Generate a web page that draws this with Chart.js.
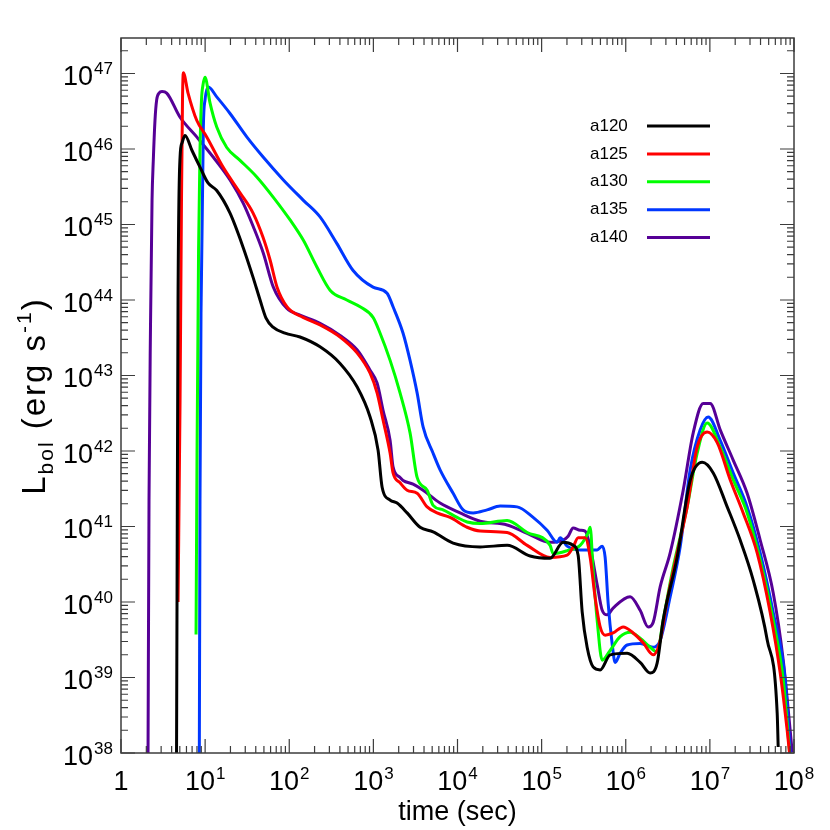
<!DOCTYPE html>
<html lang="en">
<head>
<meta charset="UTF-8">
<title>Bolometric light curves</title>
<script src="https://cdn.jsdelivr.net/npm/chart.js"></script>
<style>
    body { margin: 0; background: #fff; }
    #wrap { width: 830px; height: 830px; position: relative; }
</style>
</head>
<body>
<div id="wrap"><canvas id="lc"></canvas></div>
<script>
// models and their line colours
const modelNames = ["a120", "a125", "a130", "a135", "a140"];
const modelColors = ["#000000", "#ff0000", "#00ff00", "#0037ff", "#560096"];

// [log10 time (sec), log10 L_bol (erg/s)]
const a120 = [[0.660,37.90],[0.666,40.03],[0.678,44.00],[0.702,45.89],[0.725,46.08],[0.761,46.18],[0.844,45.98],[0.939,45.76],[1.034,45.55],[1.138,45.45],[1.296,45.15],[1.451,44.70],[1.570,44.30],[1.653,44.00],[1.724,43.76],[1.807,43.64],[1.950,43.56],[2.128,43.51],[2.366,43.38],[2.604,43.16],[2.806,42.85],[2.961,42.45],[3.056,42.01],[3.104,41.52],[3.199,41.35],[3.282,41.31],[3.401,41.18],[3.555,40.99],[3.710,40.93],[3.948,40.78],[4.269,40.73],[4.590,40.75],[4.863,40.61],[5.101,40.58],[5.256,40.79],[5.375,40.75],[5.434,40.62],[5.482,39.87],[5.541,39.40],[5.612,39.14],[5.696,39.10],[5.815,39.30],[6.017,39.32],[6.171,39.20],[6.290,39.06],[6.373,39.19],[6.445,39.76],[6.611,40.59],[6.766,41.61],[6.909,41.85],[7.040,41.71],[7.206,41.26],[7.360,40.82],[7.515,40.29],[7.681,39.50],[7.800,38.53],[7.812,38.08]];
const a125 = [[0.678,40.00],[0.702,42.67],[0.719,45.32],[0.731,46.65],[0.741,47.01],[0.797,46.74],[0.900,46.38],[1.019,46.16],[1.213,45.76],[1.415,45.42],[1.570,45.15],[1.688,44.83],[1.772,44.53],[1.855,44.17],[1.974,43.91],[2.164,43.77],[2.366,43.67],[2.604,43.51],[2.806,43.30],[2.961,43.03],[3.044,42.77],[3.115,42.41],[3.199,41.97],[3.234,41.71],[3.317,41.58],[3.401,41.48],[3.520,41.44],[3.639,41.26],[3.757,41.18],[3.912,41.12],[4.114,40.99],[4.269,40.94],[4.590,40.92],[4.828,40.75],[5.101,40.59],[5.303,40.62],[5.375,40.73],[5.434,40.85],[5.517,40.85],[5.577,40.59],[5.636,40.06],[5.696,39.67],[5.755,39.56],[5.850,39.59],[5.969,39.67],[6.088,39.59],[6.207,39.46],[6.326,39.30],[6.409,39.49],[6.492,40.02],[6.611,40.65],[6.730,41.26],[6.849,42.05],[6.968,42.25],[7.087,42.11],[7.241,41.62],[7.396,41.18],[7.562,40.65],[7.717,39.86],[7.836,39.06],[7.919,38.30],[7.955,37.91]];
const a130 = [[0.892,39.57],[0.904,42.01],[0.922,44.66],[0.939,45.98],[0.957,46.65],[0.975,46.85],[0.999,46.95],[1.058,46.61],[1.138,46.29],[1.257,46.02],[1.415,45.85],[1.614,45.63],[1.811,45.36],[2.010,45.06],[2.168,44.79],[2.327,44.44],[2.485,44.13],[2.684,44.00],[2.842,43.91],[2.996,43.77],[3.080,43.56],[3.199,43.20],[3.317,42.77],[3.436,42.24],[3.520,41.65],[3.639,41.48],[3.710,41.28],[3.829,41.22],[3.995,41.12],[4.114,41.06],[4.269,41.04],[4.590,41.08],[4.828,40.92],[5.101,40.75],[5.137,40.64],[5.303,40.68],[5.458,40.75],[5.553,40.92],[5.577,40.99],[5.612,40.42],[5.660,39.76],[5.720,39.23],[5.815,39.36],[5.933,39.54],[6.052,39.60],[6.171,39.52],[6.290,39.40],[6.373,39.34],[6.445,39.76],[6.564,40.46],[6.730,41.26],[6.849,41.97],[6.968,42.37],[7.123,42.05],[7.277,41.62],[7.443,41.18],[7.598,40.56],[7.753,39.76],[7.872,38.97],[7.955,37.91]];
const a135 = [[0.931,37.90],[0.939,41.35],[0.951,43.82],[0.979,46.29],[0.999,46.65],[1.038,46.82],[1.138,46.69],[1.296,46.47],[1.495,46.16],[1.692,45.89],[1.930,45.59],[2.168,45.32],[2.366,45.10],[2.565,44.75],[2.759,44.39],[2.996,44.17],[3.163,44.09],[3.234,43.91],[3.353,43.56],[3.436,43.20],[3.520,42.77],[3.591,42.32],[3.710,41.97],[3.793,41.75],[3.948,41.44],[4.067,41.22],[4.186,41.18],[4.352,41.22],[4.507,41.27],[4.709,41.26],[4.899,41.12],[5.065,40.95],[5.184,40.79],[5.220,40.85],[5.303,40.74],[5.458,40.69],[5.660,40.69],[5.720,40.74],[5.755,40.59],[5.791,39.98],[5.838,39.45],[5.874,39.20],[5.933,39.32],[6.017,39.43],[6.171,39.45],[6.326,39.40],[6.409,39.49],[6.528,40.07],[6.647,40.73],[6.766,41.75],[6.885,42.28],[6.980,42.45],[7.123,42.14],[7.277,41.71],[7.443,41.26],[7.598,40.65],[7.753,39.86],[7.895,38.97],[7.955,38.01]];
const a140 = [[0.321,37.90],[0.333,41.35],[0.351,43.69],[0.369,45.32],[0.384,45.85],[0.404,46.38],[0.424,46.65],[0.452,46.74],[0.488,46.76],[0.543,46.74],[0.702,46.42],[0.900,46.16],[1.098,45.89],[1.296,45.59],[1.454,45.28],[1.573,44.97],[1.692,44.62],[1.811,44.17],[1.970,43.89],[2.128,43.80],[2.366,43.69],[2.604,43.53],[2.806,43.34],[2.961,43.07],[3.044,42.90],[3.115,42.54],[3.199,42.14],[3.234,41.79],[3.317,41.65],[3.353,41.61],[3.472,41.56],[3.591,41.48],[3.793,41.31],[4.031,41.18],[4.269,41.07],[4.590,41.02],[4.828,40.91],[5.101,40.79],[5.256,40.82],[5.315,40.87],[5.375,40.98],[5.458,40.95],[5.517,40.94],[5.577,40.73],[5.660,40.23],[5.720,39.89],[5.779,39.83],[5.850,39.92],[6.052,40.07],[6.171,39.89],[6.266,39.67],[6.326,39.73],[6.409,40.20],[6.528,40.65],[6.683,41.48],[6.802,42.24],[6.921,42.63],[7.004,42.63],[7.123,42.28],[7.277,41.88],[7.443,41.44],[7.598,40.82],[7.753,40.12],[7.872,39.23],[7.979,38.01]];
const modelCurves = [a120, a125, a130, a135, a140];

// axis decades that get a "10^n" label
const xExponents = [0, 1, 2, 3, 4, 5, 6, 7, 8];
const yExponents = [38, 39, 40, 41, 42, 43, 44, 45, 46, 47];
const xMin = 1, xMax = 1e8;
const yMin = 1e38, yMax = Math.pow(10, 47.47);

const FONT = "'Liberation Sans', Arial, Helvetica, sans-serif";

function drawPow(ctx, exp, x, y, align) {
    // "10" with a raised exponent; "1" for 10^0
    ctx.textBaseline = "alphabetic";
    ctx.textAlign = "left";
    ctx.font = "27px " + FONT;
    if (exp === 0) {
        const w = ctx.measureText("1").width;
        ctx.fillText("1", x - w / 2, y);
        return;
    }
    const wb = ctx.measureText("10").width;
    ctx.font = "17px " + FONT;
    const es = String(exp);
    const we = ctx.measureText(es).width;
    const tot = wb + 1 + we;
    let x0 = align === "right" ? x - tot : x - tot / 2;
    ctx.font = "27px " + FONT;
    ctx.fillText("10", x0, y);
    ctx.font = "17px " + FONT;
    ctx.fillText(es, x0 + wb + 1, y - 11);
}

const axesPlugin = {
    id: "axesPlugin",
    afterDraw(chart) {
        const ctx = chart.ctx, a = chart.chartArea;
        const xs = chart.scales.x, ys = chart.scales.y;
        ctx.save();
        ctx.strokeStyle = "#3c3c3c";
        ctx.lineWidth = 1.5;
        ctx.strokeRect(a.left, a.top, a.right - a.left, a.bottom - a.top);

        ctx.lineWidth = 1.2;
        ctx.beginPath();
        xExponents.forEach(e => {
            for (let m = 1; m <= 9; m++) {
                const v = m * Math.pow(10, e);
                if (v > xMax) break;
                const px = xs.getPixelForValue(v);
                const len = m === 1 ? 14 : 7;
                ctx.moveTo(px, a.bottom); ctx.lineTo(px, a.bottom - len);
                ctx.moveTo(px, a.top); ctx.lineTo(px, a.top + len);
            }
        });
        yExponents.forEach(e => {
            for (let m = 1; m <= 9; m++) {
                const v = m * Math.pow(10, e);
                if (v > yMax) break;
                const py = ys.getPixelForValue(v);
                const len = m === 1 ? 14 : 7;
                ctx.moveTo(a.left, py); ctx.lineTo(a.left + len, py);
                ctx.moveTo(a.right, py); ctx.lineTo(a.right - len, py);
            }
        });
        ctx.stroke();

        // tick labels
        ctx.fillStyle = "#000";
        xExponents.forEach(e => {
            drawPow(ctx, e, xs.getPixelForValue(Math.pow(10, e)), a.bottom + 37, "center");
        });
        yExponents.forEach(e => {
            drawPow(ctx, e, a.left - 8, ys.getPixelForValue(Math.pow(10, e)) + 12, "right");
        });

        // x title
        ctx.font = "27px " + FONT;
        ctx.textAlign = "center";
        ctx.fillText("time (sec)", (a.left + a.right) / 2, 820);

        // y title, rotated
        ctx.save();
        ctx.translate(45, 396);
        ctx.rotate(-Math.PI / 2);
        ctx.textAlign = "left";
        ctx.letterSpacing = "2px";
        const parts = [["L", 33, 0], ["bol", 21, 8], [" (erg s", 33, 0], ["-1", 21, -14], [")", 33, 0]];
        let total = 0;
        parts.forEach(p => { ctx.font = p[1] + "px " + FONT; total += ctx.measureText(p[0]).width; });
        let cx = -total / 2;
        parts.forEach(p => {
            ctx.font = p[1] + "px " + FONT;
            ctx.fillText(p[0], cx, p[2]);
            cx += ctx.measureText(p[0]).width;
        });
        ctx.letterSpacing = "0px";
        ctx.restore();

        // legend
        ctx.font = "17px " + FONT;
        ctx.textAlign = "left";
        ctx.textBaseline = "middle";
        chart.data.datasets.forEach((ds, i) => {
            const y = 126 + i * 27.9;
            ctx.fillStyle = "#000";
            ctx.fillText(ds.label, 590, y);
            ctx.strokeStyle = ds.borderColor;
            ctx.lineWidth = 3;
            ctx.beginPath();
            ctx.moveTo(647, y); ctx.lineTo(710, y);
            ctx.stroke();
        });
        ctx.restore();
    }
};

new Chart(document.getElementById("lc"), {
    type: "line",
    data: {
        datasets: modelNames.map((name, i) => ({
            label: name,
            data: modelCurves[i].map(p => ({ x: Math.pow(10, p[0]), y: Math.pow(10, p[1]) })),
            borderColor: modelColors[i],
            borderWidth: 3,
            pointRadius: 0,
            cubicInterpolationMode: "monotone",
            fill: false,
            clip: 0
        }))
    },
    options: {
        responsive: true,
        maintainAspectRatio: false,
        animation: false,
        layout: { padding: { left: 0, top: 38, right: 36, bottom: 0 } },
        plugins: { legend: { display: false }, tooltip: { enabled: false } },
        scales: {
            x: {
                type: "logarithmic", min: xMin, max: xMax,
                grid: { display: false }, border: { display: false },
                ticks: { display: false },
                afterFit: s => { s.height = 77; }
            },
            y: {
                type: "logarithmic", min: yMin, max: yMax,
                grid: { display: false }, border: { display: false },
                ticks: { display: false },
                afterFit: s => { s.width = 121; }
            }
        }
    },
    plugins: [axesPlugin]
});
</script>
</body>
</html>
